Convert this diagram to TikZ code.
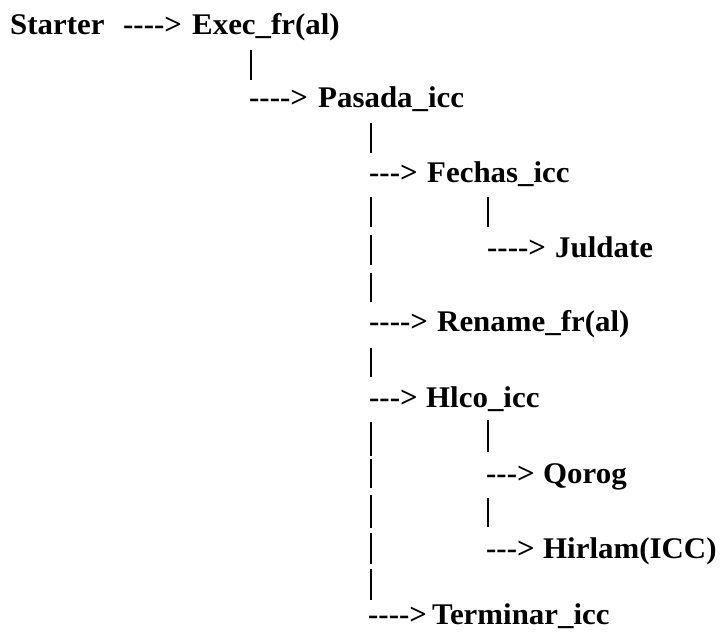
\documentclass[tikz,border=0pt]{standalone}
\usepackage{fontspec}
\newfontfamily\fnt{Liberation Serif}[FakeStretch=1.03]
\tikzset{
  lbl/.style={anchor=base west, inner sep=0pt, font=\fnt\bfseries\fontsize{30}{32}\selectfont},
  bar/.style={line width=1.3pt}
}
\begin{document}
\begin{tikzpicture}[x=1pt,y=-1pt]
\useasboundingbox (0,0) rectangle (723,636);
% texts
\node[lbl] (starter) at (10,35) {Starter};
\node[lbl] (a1) at (123,35) {---->};
\node[lbl] (exec) at (192,35) {Exec\_fr(al)};
\node[lbl] (a2) at (249,108) {---->};
\node[lbl] (pasada) at (318,108) {Pasada\_icc};
\node[lbl] (a3) at (369,183) {--->};
\node[lbl] (fechas) at (427,183) {Fechas\_icc};
\node[lbl] (a4) at (487,258) {---->};
\node[lbl] (juldate) at (555,258) {Juldate};
\node[lbl] (a5) at (369,332) {---->};
\node[lbl] (rename) at (437,332) {Rename\_fr(al)};
\node[lbl] (a6) at (369,407) {--->};
\node[lbl] (hlco) at (426,407) {Hlco\_icc};
\node[lbl] (a7) at (486,483) {--->};
\node[lbl] (qorog) at (543,483) {Qorog};
\node[lbl] (a8) at (486,558) {--->};
\node[lbl] (hirlam) at (543,558) {Hirlam(ICC)};
\node[lbl] (a9) at (368,624) {---->};
\node[lbl] (terminar) at (432,624) {Terminar\_icc};
% bars
\draw[bar] (251,50) -- (251,80);
\foreach \a/\b in {123/153,197/227,235/265,273/302,348/377,422/456,459/488,495/528,533/564,569/600}
  \draw[bar] (371,\a) -- (371,\b);
\foreach \a/\b in {197/227,420/452,498/527}
  \draw[bar] (488,\a) -- (488,\b);
\end{tikzpicture}
\end{document}
